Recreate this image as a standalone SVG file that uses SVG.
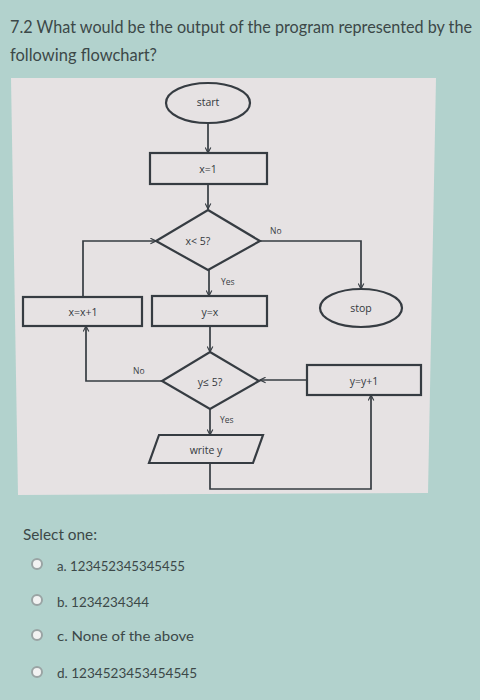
<svg xmlns="http://www.w3.org/2000/svg" width="480" height="700" viewBox="0 0 480 700">
<defs>
<style>
.q{font-family:Lato,"Open Sans","Liberation Sans",sans-serif;fill:#3c4848}
.lbl{font-family:"Open Sans","Liberation Sans",sans-serif;font-size:10.5px;fill:#33383d;text-anchor:middle;dominant-baseline:central}
.sm{font-family:"Open Sans","Liberation Sans",sans-serif;font-size:8.5px;fill:#3a3f44}
.shape{fill:none;stroke:#363c42;stroke-width:2.2}
.conn{fill:none;stroke:#363c42;stroke-width:1.7}
.radio{fill:#f2f2f2;stroke:#9aa4a4;stroke-width:2}
</style>
<marker id="arr" viewBox="0 0 10 10" refX="9" refY="5" markerWidth="7" markerHeight="7" orient="auto" markerUnits="userSpaceOnUse">
<path d="M1,1 L9,5 L1,9" fill="none" stroke="#363c42" stroke-width="1.6"/>
</marker>
</defs>
<rect x="0" y="0" width="480" height="700" fill="#b2d2cd"/>
<polygon points="11,78 436,78 428,493 18,495" fill="#e6e2e3"/>

<text class="q" x="10" y="33" font-size="16.5" textLength="462" lengthAdjust="spacingAndGlyphs">7.2 What would be the output of the program represented by the</text>
<text class="q" x="10" y="61" font-size="16.5" textLength="147" lengthAdjust="spacingAndGlyphs">following flowchart?</text>

<g id="connectors">
<line class="conn" x1="208" y1="123" x2="208" y2="153" marker-end="url(#arr)"/>
<line class="conn" x1="208" y1="184" x2="208" y2="209" marker-end="url(#arr)"/>
<polyline class="conn" points="260,241 361,241 361,289" marker-end="url(#arr)"/>
<line class="conn" x1="209" y1="270" x2="209" y2="296" marker-end="url(#arr)"/>
<polyline class="conn" points="83,297 83,241 156,241" marker-end="url(#arr)"/>
<line class="conn" x1="210" y1="326" x2="210" y2="352" marker-end="url(#arr)"/>
<polyline class="conn" points="162,381 86,381 86,326" marker-end="url(#arr)"/>
<line class="conn" x1="307" y1="380" x2="260" y2="380" marker-end="url(#arr)"/>
<line class="conn" x1="210" y1="409" x2="210" y2="435" marker-end="url(#arr)"/>
<polyline class="conn" points="210,463 210,489 371,489 371,395" marker-end="url(#arr)"/>
<text class="sm" x="270" y="234">No</text>
<text class="sm" x="221" y="285">Yes</text>
<text class="sm" x="133" y="374">No</text>
<text class="sm" x="220" y="423">Yes</text>
</g>

<g id="start"><ellipse class="shape" cx="208" cy="103" rx="42" ry="20"/><text class="lbl" x="208" y="102">start</text></g>
<g id="x1"><rect class="shape" x="150" y="153" width="117" height="31"/><text class="lbl" x="208" y="169">x=1</text></g>
<g id="dec1"><polygon class="shape" points="208,210 260,241 208,270 156,241"/><text class="lbl" x="198" y="241">x&lt; 5?</text></g>
<g id="stop"><ellipse class="shape" cx="361" cy="308" rx="41" ry="19"/><text class="lbl" x="361" y="308">stop</text></g>
<g id="yx"><rect class="shape" x="152" y="296" width="115" height="30"/><text class="lbl" x="210" y="312">y=x</text></g>
<g id="xx1"><rect class="shape" x="23" y="297" width="119" height="29"/><text class="lbl" x="83" y="312">x=x+1</text></g>
<g id="dec2"><polygon class="shape" points="210,352 259,381 210,409 162,381"/><text class="lbl" x="210" y="382">y≤ 5?</text></g>
<g id="yy1"><rect class="shape" x="307" y="365" width="114" height="30"/><text class="lbl" x="364" y="381">y=y+1</text></g>
<g id="write"><polygon class="shape" points="159,435 263,435 253,463 149,463"/><text class="lbl" x="206" y="450">write y</text></g>

<text class="q" x="23" y="540" font-size="15" textLength="74" lengthAdjust="spacingAndGlyphs">Select one:</text>
<circle class="radio" cx="37" cy="564" r="5"/>
<text class="q" x="57" y="571" font-size="14" textLength="128" lengthAdjust="spacingAndGlyphs">a. 123452345345455</text>
<circle class="radio" cx="37" cy="600" r="5"/>
<text class="q" x="57" y="607" font-size="14" textLength="92" lengthAdjust="spacingAndGlyphs">b. 1234234344</text>
<circle class="radio" cx="37" cy="635" r="5"/>
<text class="q" x="57" y="641" font-size="14" textLength="137" lengthAdjust="spacingAndGlyphs">c. None of the above</text>
<circle class="radio" cx="37" cy="672" r="5"/>
<text class="q" x="57" y="678" font-size="14" textLength="140" lengthAdjust="spacingAndGlyphs">d. 1234523453454545</text>
</svg>
